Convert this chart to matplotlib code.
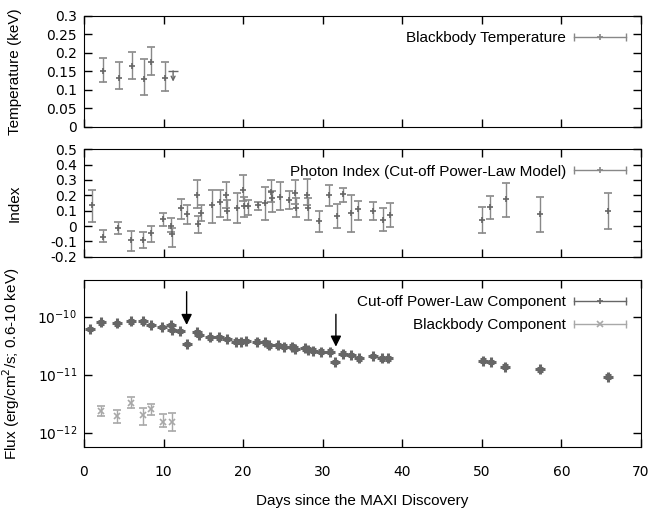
import numpy as np
import matplotlib
matplotlib.use('Agg')
import matplotlib.pyplot as plt
from matplotlib.lines import Line2D
from matplotlib.legend_handler import HandlerLine2D, HandlerTuple
from matplotlib.ticker import LogLocator, NullLocator

# blackbody temperature (keV)
bb_day = [2.4, 4.4, 6.0, 7.6, 8.4, 10.2]
bb_temp = [0.151, 0.132, 0.164, 0.128, 0.175, 0.132]
bb_temp_hi = [0.035, 0.042, 0.039, 0.055, 0.041, 0.044]
bb_temp_lo = [0.029, 0.031, 0.035, 0.042, 0.036, 0.036]
# upper limit point
bb_ul_day = [11.2]
bb_ul_temp = [0.151]
bb_ul_low = [0.122]

# photon index of the cut-off power-law model
pi_day = [1.05, 2.35, 4.3, 5.9, 7.45, 8.4, 9.97, 10.9, 11.1, 12.2, 12.9, 14.15, 14.3,
          14.7, 16.1, 17.1, 17.9, 18.0, 19.2, 20.0, 20.1, 20.6, 21.9, 22.7, 23.5,
          23.6, 24.6, 25.8, 26.5, 26.6, 28.0, 28.2, 29.5, 30.8, 31.75, 32.6, 33.5,
          34.4, 36.3, 37.6, 38.45, 50.0, 51.0, 53.0, 57.3, 65.9]
pi_val = [0.137, -0.07, -0.011, -0.09, -0.09, -0.048, 0.044, 0.0, -0.055, 0.115, 0.078,
          0.20, 0.015, 0.083, 0.137, 0.154, 0.20, 0.10, 0.115, 0.235, 0.13, 0.13, 0.137,
          0.148, 0.224, 0.18, 0.191, 0.17, 0.213, 0.12, 0.205, 0.12, 0.035, 0.20, 0.065,
          0.207, 0.083, 0.11, 0.095, 0.039, 0.072, 0.039, 0.126, 0.174, 0.078, 0.10]
pi_hi = [0.10, 0.045, 0.04, 0.06, 0.05, 0.048, 0.04, 0.05, 0.04, 0.06, 0.06, 0.10, 0.05,
         0.054, 0.10, 0.08, 0.09, 0.07, 0.10, 0.097, 0.06, 0.04, 0.022, 0.108, 0.076,
         0.05, 0.098, 0.06, 0.09, 0.06, 0.10, 0.06, 0.06, 0.07, 0.076, 0.043, 0.12,
         0.05, 0.06, 0.076, 0.08, 0.087, 0.072, 0.108, 0.11, 0.113]
pi_lo = [0.11, 0.035, 0.043, 0.07, 0.055, 0.054, 0.044, 0.04, 0.08, 0.07, 0.067, 0.08,
         0.063, 0.05, 0.12, 0.093, 0.08, 0.06, 0.097, 0.07, 0.07, 0.058, 0.033, 0.11,
         0.07, 0.09, 0.087, 0.06, 0.07, 0.06, 0.07, 0.08, 0.075, 0.07, 0.08, 0.048,
         0.12, 0.072, 0.056, 0.069, 0.076, 0.087, 0.082, 0.113, 0.115, 0.122]

# cut-off power-law component flux (erg/cm2/s)
pl_day = [0.75, 2.2, 4.1, 5.87, 7.4, 8.4, 9.8, 10.9, 11.0, 12.1, 12.9, 14.15, 14.45,
          15.9, 17.0, 18.0, 19.05, 19.7, 20.3, 21.7, 22.8, 23.2, 24.4, 25.2, 26.2, 26.5,
          27.8, 28.2, 28.8, 29.8, 30.9, 31.6, 32.5, 33.5, 34.5, 36.3, 37.5, 38.2, 50.2,
          51.1, 52.9, 57.3, 65.9]
pl_flux = [6.1e-11, 8.0e-11, 7.7e-11, 8.3e-11, 8.3e-11, 7.2e-11, 6.6e-11, 7.2e-11,
           5.9e-11, 5.7e-11, 3.4e-11, 5.5e-11, 4.8e-11, 4.4e-11, 4.4e-11, 4.1e-11,
           3.7e-11, 3.7e-11, 3.8e-11, 3.7e-11, 3.6e-11, 3.2e-11, 3.2e-11, 3.05e-11,
           3.05e-11, 2.8e-11, 2.85e-11, 2.7e-11, 2.6e-11, 2.5e-11, 2.5e-11, 1.64e-11,
           2.3e-11, 2.2e-11, 1.92e-11, 2.1e-11, 1.92e-11, 1.92e-11, 1.74e-11, 1.64e-11,
           1.38e-11, 1.24e-11, 9.2e-12]

# blackbody component flux
bbf_day = [2.2, 4.2, 5.87, 7.45, 8.4, 9.9, 11.0]
bbf_flux = [2.37e-12, 1.95e-12, 3.3e-12, 2.0e-12, 2.57e-12, 1.55e-12, 1.55e-12]
bbf_hi = [0.53e-12, 0.55e-12, 0.77e-12, 0.7e-12, 0.53e-12, 0.55e-12, 0.65e-12]
bbf_lo = [0.42e-12, 0.46e-12, 0.6e-12, 0.64e-12, 0.57e-12, 0.31e-12, 0.5e-12]

# arrows: (day, start flux, tip flux)
arrow_day = [12.9, 31.66]
arrow_top = [2.7e-10, 1.1e-10]
arrow_tip = [7.2e-11, 3.04e-11]

dark = '#666666'
bar = '#888888'
light = '#a8a8a8'
txt_font = ['Liberation Sans', 'DejaVu Sans']

plt.rcParams['font.family'] = 'DejaVu Sans'
plt.rcParams['font.size'] = 10

fig = plt.figure(figsize=(6.52, 5.09), dpi=100)
ax1 = fig.add_axes([0.1288, 0.751, 0.8543, 0.218])
ax2 = fig.add_axes([0.1288, 0.4957, 0.8543, 0.211])
ax3 = fig.add_axes([0.1288, 0.1224, 0.8543, 0.3275])

eb = dict(capsize=3, elinewidth=1, capthick=1, ecolor=bar, markersize=5, mew=1.2)

ax1.errorbar(bb_day, bb_temp, yerr=[bb_temp_lo, bb_temp_hi], fmt='+', color=dark, **eb)
ax1.plot(bb_ul_day, bb_ul_temp, ls='none', marker='_', markersize=7, mew=1, color=dark)
for d, t, lo in zip(bb_ul_day, bb_ul_temp, bb_ul_low):
    ax1.annotate('', xy=(d, lo), xytext=(d, t),
                 arrowprops=dict(arrowstyle='->', color=dark, lw=1,
                                 mutation_scale=7, shrinkA=0, shrinkB=0))
ax1.set_ylim(0, 0.3)
ax1.set_yticks(np.arange(0, 0.31, 0.05))
ax1.set_yticklabels(['0', '0.05', '0.1', '0.15', '0.2', '0.25', '0.3'])
ax1.set_ylabel('Temperature (keV)', family=txt_font, fontsize=11)

ax2.errorbar(pi_day, pi_val, yerr=[pi_lo, pi_hi], fmt='+', color=dark, **eb)
ax2.set_ylim(-0.2, 0.5)
ax2.set_yticks(np.arange(-0.2, 0.51, 0.1))
ax2.set_yticklabels(['-0.2', '-0.1', '0', '0.1', '0.2', '0.3', '0.4', '0.5'])
ax2.set_ylabel('Index', family=txt_font, fontsize=11)

pl_err = [f * 0.05 for f in pl_flux]
ax3.errorbar(pl_day, pl_flux, yerr=pl_err, fmt='+', color=dark, capsize=2,
             elinewidth=1, ecolor=dark, markersize=7, mew=2.2)
ax3.errorbar(bbf_day, bbf_flux, yerr=[bbf_lo, bbf_hi], fmt='x', color=light, capsize=3,
             elinewidth=1, capthick=1, ecolor=light, markersize=5, mew=1.2)
for d, a, b in zip(arrow_day, arrow_top, arrow_tip):
    ax3.annotate('', xy=(d, b), xytext=(d, a),
                 arrowprops=dict(arrowstyle='-|>', color='black', lw=1,
                                 mutation_scale=16, shrinkA=0, shrinkB=0))
ax3.set_yscale('log')
ax3.set_ylim(5.7e-13, 4.3e-10)
ax3.yaxis.set_major_locator(LogLocator(base=10, numticks=10))
ax3.yaxis.set_minor_locator(NullLocator())
ax3.set_ylabel('Flux (erg/cm$^2$/s; 0.6-10 keV)', family=txt_font, fontsize=11)
ax3.set_xlabel('Days since the MAXI Discovery', family=txt_font, fontsize=11, labelpad=11)

for ax in (ax1, ax2, ax3):
    ax.set_xlim(0, 70)
    ax.set_xticks(np.arange(0, 71, 10))
    ax.tick_params(direction='in', length=6, width=1, top=True, right=True, pad=5)
    ax.tick_params(axis='x', pad=13)
    ax.yaxis.set_label_coords(-0.112, 0.5)
ax1.tick_params(labelbottom=False)
ax2.tick_params(labelbottom=False)


def legend_handle(color, marker):
    line = Line2D([], [], color=color, lw=1, marker=marker, markersize=5, mew=1.2)
    caps = Line2D([], [], color=color, lw=0, marker='|', markersize=6, mew=1)
    return (line, caps)


def add_legend(ax, entries):
    handles = []
    hmap = {}
    for color, marker, label in entries:
        h = legend_handle(color, marker)
        hmap[h[1]] = HandlerLine2D(numpoints=2, marker_pad=0.0)
        handles.append(h)
    hmap[tuple] = HandlerTuple(ndivide=1, pad=0)
    ax.legend(handles, [e[2] for e in entries], loc='upper right', frameon=False,
              markerfirst=False, handlelength=3.4, handletextpad=0.5, labelspacing=0.6,
              borderaxespad=0.6, numpoints=1, handler_map=hmap,
              prop={'family': txt_font, 'size': 11})


add_legend(ax1, [(bar, '+', 'Blackbody Temperature')])
add_legend(ax2, [(bar, '+', 'Photon Index (Cut-off Power-Law Model)')])
add_legend(ax3, [(dark, '+', 'Cut-off Power-Law Component'),
                 (light, 'x', 'Blackbody Component')])

fig.savefig('out.png', dpi=100)
